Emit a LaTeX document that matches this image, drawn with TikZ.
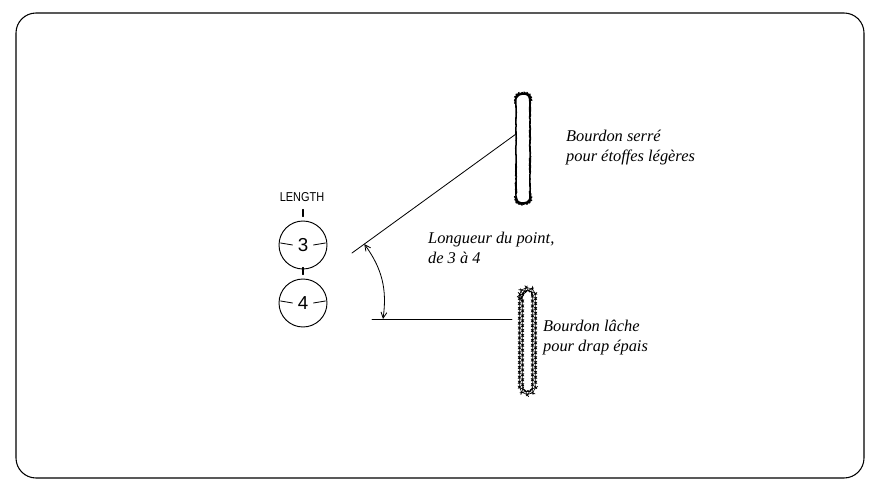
\documentclass[tikz,border=0pt]{standalone}
\usepackage{fontspec}
\usepackage{graphicx}
\setmainfont{Liberation Serif}
\newfontfamily\dialfont{Liberation Sans}
\usetikzlibrary{decorations.pathmorphing,arrows.meta,positioning,calc}

\tikzset{
  dial/.style={draw, circle, minimum size=1.44cm, inner sep=0pt, line width=0.8pt, font=\dialfont\fontsize{16}{16}\selectfont},
  note/.style={anchor=west, align=left, font=\fontsize{14}{17}\selectfont\itshape},
  tight stitch/.style={line width=1.1pt, decorate, decoration={random steps, segment length=2pt, amplitude=0.15pt}},
  loose stitch/.style={line width=0.5pt, decorate, decoration={zigzag, segment length=4.2pt, amplitude=1.2pt}}
}

\begin{document}
\begin{tikzpicture}[x=0.03cm, y=-0.03cm, line cap=round, line join=round, >={Straight Barb[length=5pt,width=5pt]}]
  \useasboundingbox (0,0) rectangle (869,489);
  % frame
  \draw[line width=0.9pt, rounded corners=0.6cm] (16,13) rectangle (864,478);

  % dials
  \node[font=\dialfont\fontsize{11}{11}\selectfont] (len) at (302,197) {\scalebox{0.85}[1]{LENGTH}};
  \node[dial] (dial3) at (303,245) {3};
  \node[dial] (dial4) at (303,303) {4};
  \foreach \d in {dial3, dial4} {
    \draw[line width=1pt] (\d.north) ++(0,-4) -- ++(0,-7);
    \draw[line width=0.7pt] (\d.west) ++(2,-2) -- ++(12,2);
    \draw[line width=0.7pt] (\d.east) ++(-2,-2) -- ++(-12,2);
  }

  % stitch bars
  \draw[tight stitch, rounded corners=5pt] (516,94) rectangle (530,203);
  \draw[loose stitch, rounded corners=5pt] (521,289) rectangle (534,393);

  % needle lines
  \coordinate (up0) at (352,253);
  \coordinate (up1) at (516,134);
  \coordinate (lo0) at (372,319);
  \coordinate (lo1) at (512,319);
  \draw[line width=0.7pt] (up0) -- (up1);
  \draw[line width=0.8pt] (lo0) -- (lo1);
  \coordinate (arcA) at ($(up0)!0.075!(up1)$);
  \coordinate (arcB) at (383,319);
  \draw[<->, line width=0.7pt] (arcA) to[bend left=22] (arcB);

  % notes
  \node[note] (serre) at (562,148) {Bourdon serré\\pour étoffes légères};
  \node[note] (point) at (424,248) {Longueur du point,\\de 3 à 4};
  \node[note] (lache) at (539,338) {Bourdon lâche\\pour drap épais};
\end{tikzpicture}
\end{document}
